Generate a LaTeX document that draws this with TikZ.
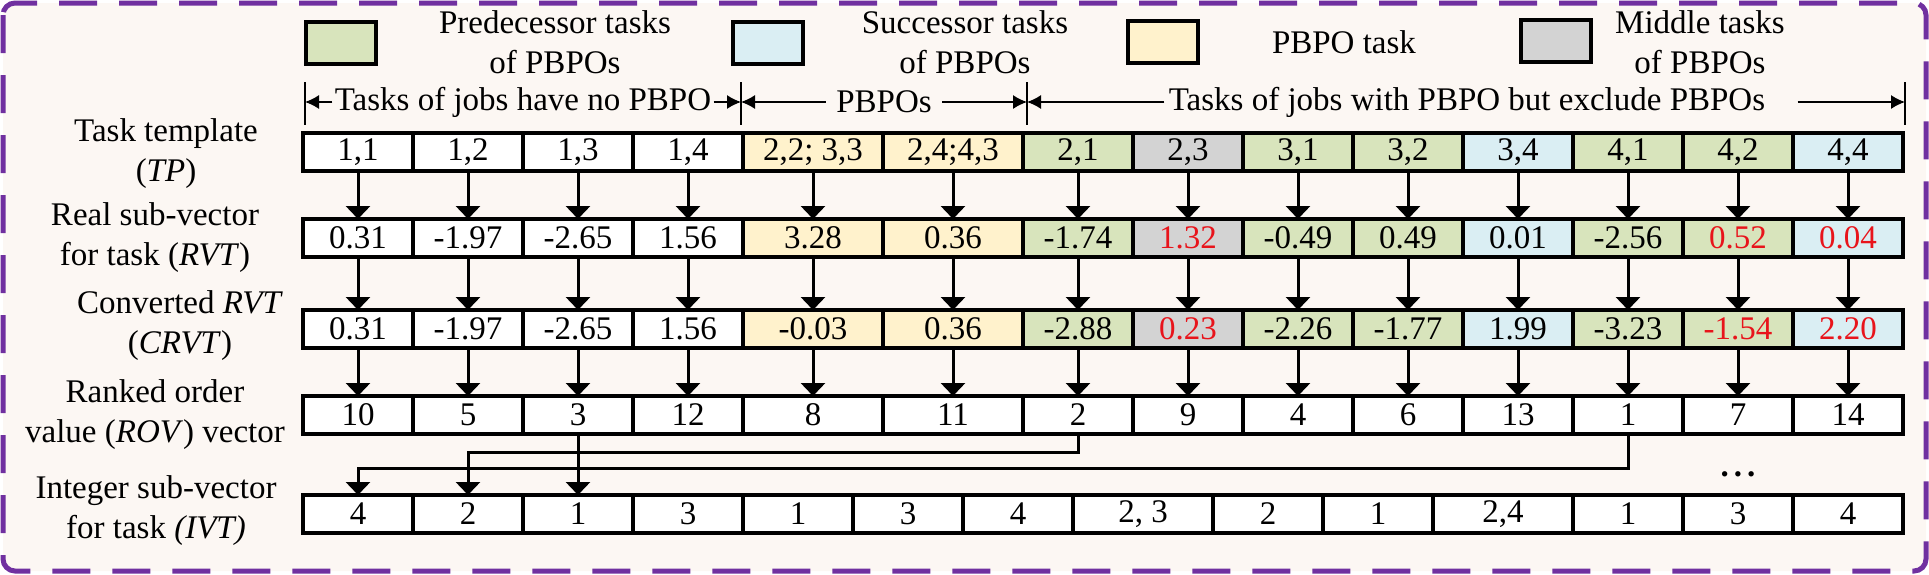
\documentclass[tikz,border=0pt]{standalone}
\usepackage{fontspec}
\setmainfont{Liberation Serif}
\usepackage{tikz}
\usetikzlibrary{arrows.meta}

\definecolor{pred}{HTML}{D8E4BC}
\definecolor{succ}{HTML}{DAEEF3}
\definecolor{pbpo}{HTML}{FFF2CC}
\definecolor{midd}{HTML}{D3D3D3}
\definecolor{frame}{HTML}{7030A0}
\definecolor{paper}{HTML}{FCF7F3}
\definecolor{hot}{HTML}{E8141B}

\begin{document}
\begin{tikzpicture}[x=0.5pt,y=-0.5pt,
	every node/.style={font=\fontsize{16.5}{20}\selectfont},
	cell/.style={draw,line width=1.7pt,minimum height=19pt,inner sep=0pt,outer sep=0pt},
	key/.style={draw,line width=1.7pt,minimum width=35pt,minimum height=21pt,inner sep=0pt},
	arr/.style={-{Triangle[width=12pt,length=6.5pt]},line width=1.5pt},
	tip/.style={-{Latex[length=7pt,width=7pt]},line width=0.7pt}]
	\useasboundingbox (0,0) rectangle (1929,574);
	\fill[paper,rounded corners=6pt] (3,3) rectangle (1926,571);
	\draw[frame,line width=2.5pt,dash pattern=on 19pt off 11pt,rounded corners=6pt] (3,3) rectangle (1926,571);

	% legend
	\node[key,fill=pred] (kpred) at (341,43) {};
	\node[align=center] (npred) at (555,42) {Predecessor tasks\\of PBPOs};
	\node[key,fill=succ] (ksucc) at (768,43) {};
	\node[align=center] (nsucc) at (965,42) {Successor tasks\\of PBPOs};
	\node[key,fill=pbpo] (kpbpo) at (1163,42) {};
	\node (npbpo) at (1344,42) {PBPO task};
	\node[key,fill=midd] (kmidd) at (1556,41) {};
	\node[align=center] (nmidd) at (1700,42) {Middle tasks\\of PBPOs};

	% spans
	\foreach \x in {305,741,1027,1905}
		\draw[line width=0.7pt] (\x,82) -- (\x,125);
	\coordinate (b0) at (305,102);
	\coordinate (b1) at (741,102);
	\coordinate (b2) at (1027,102);
	\coordinate (b3) at (1905,102);
	\node[inner xsep=1pt] (s1) at (523,102) {Tasks of jobs have no PBPO};
	\draw[tip] (s1.west) -- (b0);
	\draw[tip] (s1.east) -- (b1);
	\node[inner xsep=5pt] (s2) at (884,102) {PBPOs};
	\draw[tip] (s2.west) -- (b1);
	\draw[tip] (s2.east) -- (b2);
	\node[inner xsep=2pt] (s3) at (1467,102) {Tasks of jobs with PBPO but exclude PBPOs};
	\draw[tip] (s3.west) -- (b2);
	\draw[tip] ([xshift=14pt]s3.east) -- (b3);

	% row labels
	\node[align=center] (ltp) at (166,154) {Task template\\(\textit{TP})};
	\node[align=center] (lrvt) at (155,238) {Real sub-vector\\for task (\textit{RVT})};
	\node[align=center] (lcrvt) at (180,326) {Converted \textit{RVT}\\(\textit{CRVT})};
	\node[align=center] (lrov) at (155,415) {Ranked order\\value (\textit{ROV}) vector};
	\node[align=center] (livt) at (156,511) {Integer sub-vector\\for task \textit{(IVT)}};

	% upper vectors
	\foreach \x/\w/\c/\tp/\rv/\cr/\ro [count=\i] in {
		358/55/white/{1,1}/0.31/0.31/10,
		468/55/white/{1,2}/-1.97/-1.97/5,
		578/55/white/{1,3}/-2.65/-2.65/3,
		688/55/white/{1,4}/1.56/1.56/12,
		813/70/pbpo/{2,2; 3,3}/3.28/-0.03/8,
		953/70/pbpo/{2,4;4,3}/0.36/0.36/11,
		1078/55/pred/{2,1}/-1.74/-2.88/2,
		1188/55/midd/{2,3}/\textcolor{hot}{1.32}/\textcolor{hot}{0.23}/9,
		1298/55/pred/{3,1}/-0.49/-2.26/4,
		1408/55/pred/{3,2}/0.49/-1.77/6,
		1518/55/succ/{3,4}/0.01/1.99/13,
		1628/55/pred/{4,1}/-2.56/-3.23/1,
		1738/55/pred/{4,2}/\textcolor{hot}{0.52}/\textcolor{hot}{-1.54}/7,
		1848/55/succ/{4,4}/\textcolor{hot}{0.04}/\textcolor{hot}{2.20}/14}
	{
		\node[cell,fill=\c,minimum width=\w pt] (t\i) at (\x,152) {\tp};
		\node[cell,fill=\c,minimum width=\w pt] (r\i) at (\x,238) {\rv};
		\node[cell,fill=\c,minimum width=\w pt] (c\i) at (\x,329) {\cr};
		\node[cell,fill=white,minimum width=\w pt] (o\i) at (\x,415) {\ro};
		\draw[arr] (t\i.south) -- (r\i.north);
		\draw[arr] (r\i.south) -- (c\i.north);
		\draw[arr] (c\i.south) -- (o\i.north);
	}

	% integer vector
	\foreach \x/\w/\v [count=\i] in {358/55/4, 468/55/2, 578/55/1, 688/55/3, 798/55/1, 908/55/3, 1018/55/4,
		1143/70/{2, 3}, 1268/55/2, 1378/55/1, 1503/70/{2,4}, 1628/55/1, 1738/55/3, 1848/55/4}
		\node[cell,fill=white,minimum width=\w pt] (v\i) at (\x,514) {\v};

	\draw[arr] (o3.south) -- (v3.north);
	\draw[arr] (o7.south) -- ++(0,18) -| (v2.north);
	\draw[arr] (o12.south) -- ++(0,34) -| (v1.north);
	\node (dots) at (1738,474) {\bfseries .\kern2.5pt.\kern2.5pt.};
\end{tikzpicture}
\end{document}
